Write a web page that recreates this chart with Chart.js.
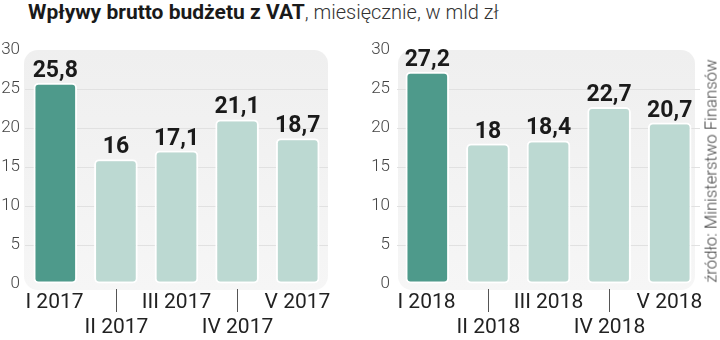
<!DOCTYPE html>
<html>
<head>
<meta charset="utf-8">
<script src="https://cdn.jsdelivr.net/npm/chart.js@4"></script>
<style>
  html, body { margin: 0; padding: 0; background: #fff; }
  #wrap { position: relative; width: 720px; height: 340px; overflow: hidden; font-family: Roboto, sans-serif; }
  #title { position: absolute; left: 28px; top: 0px; font-size: 20px; color: #1a1a1a; white-space: nowrap; }
  #title b { font-weight: 700; font-size: 21px; letter-spacing: 0px; }
  #title span { font-weight: 300; color: #333; }
  #source { position: absolute; left: 711px; top: 171px; transform: translate(-50%, -50%) rotate(-90deg);
            font-size: 16.7px; font-weight: 300; color: #444; white-space: nowrap; }
  canvas { position: absolute; top: 0; }
  #c2017 { left: 0; }
  #c2018 { left: 360px; }
</style>
</head>
<body>
<div id="wrap">
  <div id="title"><b>Wpływy brutto budżetu z VAT</b><span>, miesięcznie, w mld zł</span></div>
  <canvas id="c2017" width="345" height="340"></canvas>
  <canvas id="c2018" width="360" height="340"></canvas>
  <div id="source">źródło: Ministerstwo Finansów</div>
</div>
<script>
// ===== dane =====
const months2017 = ['I 2017', 'II 2017', 'III 2017', 'IV 2017', 'V 2017'];
const vat2017 = [25.8, 16, 17.1, 21.1, 18.7];
const months2018 = ['I 2018', 'II 2018', 'III 2018', 'IV 2018', 'V 2018'];
const vat2018 = [27.2, 18, 18.4, 22.7, 20.7];
const yMin = 0, yMax = 30, yStep = 5;

const DARK = '#4e9a8b';
const LIGHT = '#bcd9d2';

// tło panelu z zaokrąglonymi rogami
const panelPlugin = {
  id: 'panel',
  beforeDraw(chart, args, opts) {
    const { ctx, chartArea: a } = chart;
    const x0 = a.left + (opts.dl || 0), x1 = a.right + (opts.dr || 0);
    const y0 = a.top, y1 = a.bottom + 6;
    ctx.save();
    const g = ctx.createLinearGradient(0, y0, 0, y1);
    g.addColorStop(0, '#efefef');
    g.addColorStop(1, '#f6f6f6');
    ctx.fillStyle = g;
    ctx.beginPath();
    ctx.roundRect(x0, y0, x1 - x0, y1 - y0, 14);
    ctx.fill();
    ctx.restore();
  }
};

// wartości nad słupkami + podpisy osi X na dwóch poziomach
const labelsPlugin = {
  id: 'labels',
  afterDatasetsDraw(chart) {
    const { ctx } = chart;
    const meta = chart.getDatasetMeta(0);
    const data = chart.data.datasets[0].data;
    ctx.save();
    ctx.font = 'bold 23px Roboto';
    ctx.fillStyle = '#1a1a1a';
    ctx.textAlign = 'center';
    ctx.textBaseline = 'alphabetic';
    meta.data.forEach((bar, i) => {
      const txt = String(data[i]).replace('.', ',');
      ctx.fillText(txt, bar.x, bar.y - 6);
    });
    ctx.restore();
  },
  afterDraw(chart) {
    const { ctx } = chart;
    const xs = chart.scales.x;
    ctx.save();
    ctx.font = '21px Roboto';
    ctx.fillStyle = '#222';
    ctx.textAlign = 'center';
    ctx.textBaseline = 'middle';
    chart.data.labels.forEach((lab, i) => {
      const x = Math.round(xs.getPixelForValue(i)) + 0.5;
      if (i % 2 === 0) {
        ctx.fillText(lab, x - 1, 303);
      } else {
        ctx.strokeStyle = '#555';
        ctx.lineWidth = 1;
        ctx.beginPath();
        ctx.moveTo(x, 289);
        ctx.lineTo(x, 312);
        ctx.stroke();
        ctx.fillText(lab, x, 328);
      }
    });
    ctx.restore();
  }
};

function makeChart(id, labels, values, yWidth, tickPad, padRight, panelOpts) {
  const ctx = document.getElementById(id).getContext('2d');
  return new Chart(ctx, {
    type: 'bar',
    data: {
      labels,
      datasets: [{
        data: values,
        backgroundColor: values.map((v, i) => i === 0 ? DARK : LIGHT),
        borderColor: '#ffffff',
        borderWidth: 2,
        borderRadius: 5,
        borderSkipped: false,
        barPercentage: 0.72,
        categoryPercentage: 1
      }]
    },
    options: {
      responsive: false,
      animation: false,
      layout: { padding: { left: 0, right: padRight, top: 50, bottom: 56 } },
      plugins: { legend: { display: false }, tooltip: { enabled: false }, panel: panelOpts },
      scales: {
        x: { display: false },
        y: {
          min: yMin, max: yMax,
          ticks: { stepSize: yStep, padding: tickPad, color: '#444', font: { family: 'Roboto', size: 17, weight: '300' } },
          grid: { color: (c) => (c.tick.value === yMin || c.tick.value === yMax) ? 'rgba(0,0,0,0)' : '#e1e1e1', drawTicks: false },
          border: { display: false },
          afterFit: (s) => { s.width = yWidth; }
        }
      }
    },
    plugins: [panelPlugin, labelsPlugin]
  });
}

makeChart('c2017', months2017, vat2017, 25, 5, 17, { dl: -1, dr: 0 });
makeChart('c2018', months2018, vat2018, 37, 7, 20, { dl: 1, dr: -5 });
</script>
</body>
</html>
